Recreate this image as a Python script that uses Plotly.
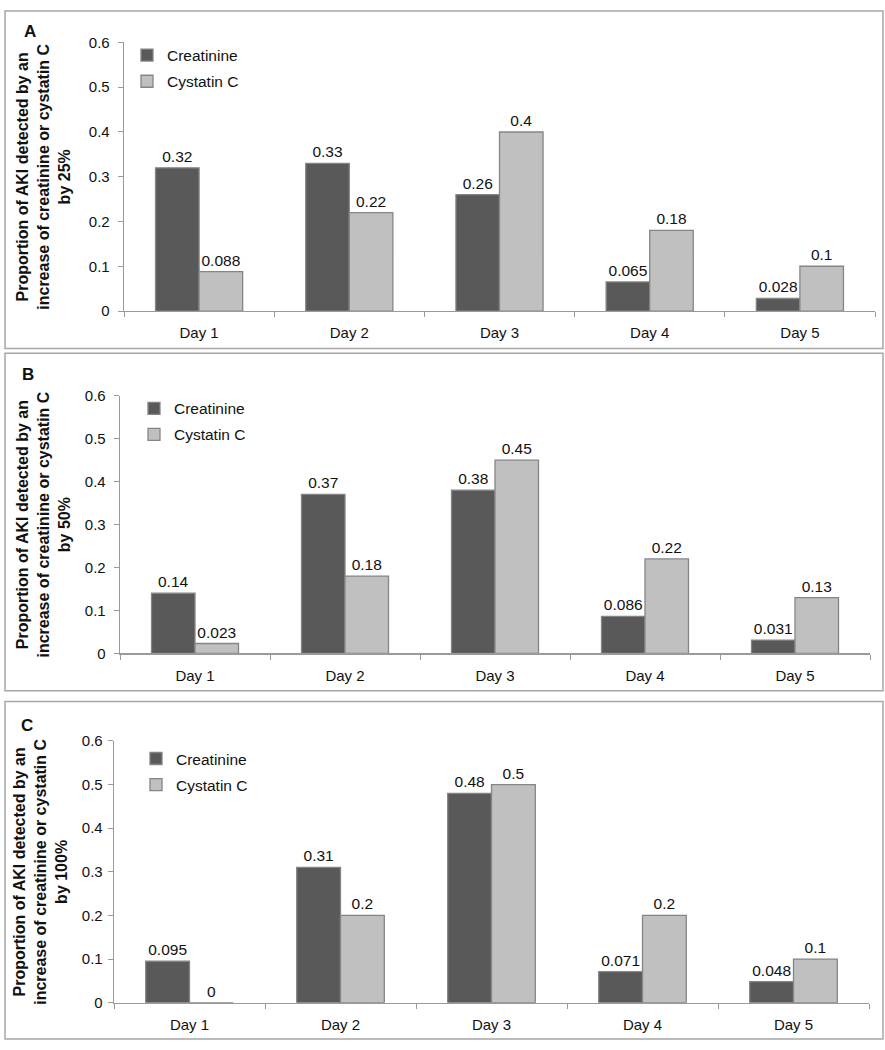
import plotly.graph_objects as go

W, H = 885, 1050

days = ["Day 1", "Day 2", "Day 3", "Day 4", "Day 5"]
series_names = ["Creatinine", "Cystatin C"]
panel_letters = ["A", "B", "C"]
thresholds = ["25%", "50%", "100%"]

creat_25 = [0.32, 0.33, 0.26, 0.065, 0.028]
cyst_25 = [0.088, 0.22, 0.4, 0.18, 0.1]
creat_50 = [0.14, 0.37, 0.38, 0.086, 0.031]
cyst_50 = [0.023, 0.18, 0.45, 0.22, 0.13]
creat_100 = [0.095, 0.31, 0.48, 0.071, 0.048]
cyst_100 = [0, 0.2, 0.5, 0.2, 0.1]

y_ticks = [0, 0.1, 0.2, 0.3, 0.4, 0.5, 0.6]

panels = [(creat_25, cyst_25), (creat_50, cyst_50), (creat_100, cyst_100)]

# layout in pixels
plot_px = [  # x0, x1, ytop, ybottom
    (124, 875, 34, 307),
    (120, 870, 393, 655),
    (114, 869, 744, 1010),
]
box_px = [(5, 883, 2, 345), (5, 883, 350, 693), (5, 883, 704, 1047)]
title_x_px = [44, 44, 41]
letter_px = [(30, 23), (28, 372), (27, 728)]
legend_px = [(127, 30), (134, 389), (136, 745)]
ytick_standoff = [5, 5, 2]

colors = ["#595959", "#c0c0c0"]
outline = "#858585"
font_family = "Liberation Sans, Arial, sans-serif"
txt = "#111111"

def px(x):
    return x / W

def py(y):
    return 1 - y / H

fig = go.Figure()
layout = dict(
    width=W, height=H, margin=dict(l=0, r=0, t=0, b=0),
    paper_bgcolor="white", plot_bgcolor="white",
    barmode="group", bargap=0.42, bargroupgap=0,
    font=dict(family=font_family, size=15, color=txt),
    shapes=[], annotations=[],
)

for i, (cr, cy) in enumerate(panels):
    ax = "" if i == 0 else str(i + 1)
    leg = "legend" if i == 0 else f"legend{i + 1}"
    for j, vals in enumerate([cr, cy]):
        fig.add_trace(go.Bar(
            x=days, y=vals, name=series_names[j],
            xaxis="x" + ax, yaxis="y" + ax, legend=leg,
            legendgroup=f"p{i}s{j}",
            marker=dict(color=colors[j], line=dict(color=outline, width=1.3)),
            text=[f"{v:g}" for v in vals], textposition="outside",
            textfont=dict(size=15.5, color=txt), constraintext="none",
            cliponaxis=False, showlegend=True,
        ))
    x0, x1, yt, yb = plot_px[i]
    layout["xaxis" + ax] = dict(
        domain=[px(x0), px(x1)], anchor="y" + ax,
        showline=True, linecolor="#9a9a9a", linewidth=1.3,
        ticks="outside", tickson="boundaries", ticklen=5, tickcolor="#9a9a9a",
        showgrid=False, tickfont=dict(size=15, color=txt), ticklabelstandoff=8,
        fixedrange=True,
    )
    layout["yaxis" + ax] = dict(
        domain=[py(yb), py(yt)], anchor="x" + ax, range=[0, 0.6],
        tickvals=y_ticks, ticktext=[f"{t:g}" for t in y_ticks],
        showline=True, linecolor="#9a9a9a", linewidth=1.3,
        ticks="outside", ticklen=5, tickcolor="#9a9a9a",
        showgrid=False, zeroline=False, tickfont=dict(size=15, color=txt),
        ticklabelstandoff=ytick_standoff[i], fixedrange=True,
    )
    lx, ly = legend_px[i]
    layout[leg] = dict(
        x=px(lx), y=py(ly), xanchor="left", yanchor="top",
        bgcolor="rgba(0,0,0,0)", font=dict(size=15.5, color=txt),
        traceorder="grouped", tracegroupgap=3,
        itemclick=False, itemdoubleclick=False,
    )
    bx0, bx1, by0, by1 = box_px[i]
    layout["shapes"].append(dict(
        type="rect", xref="paper", yref="paper",
        x0=px(bx0), x1=px(bx1), y0=py(by1), y1=py(by0),
        line=dict(color="#a6a6a6", width=1.5), fillcolor="rgba(0,0,0,0)",
    ))
    layout["annotations"].append(dict(
        xref="paper", yref="paper", x=px(title_x_px[i]), y=py((yt + yb) / 2),
        text=("<b>Proportion of AKI detected by an<br>increase of creatinine or cystatin C<br>by "
              + thresholds[i] + "</b>"),
        textangle=-90, showarrow=False, xanchor="center", yanchor="middle",
        font=dict(size=16, color=txt, family=font_family), align="center",
    ))
    lx2, ly2 = letter_px[i]
    layout["annotations"].append(dict(
        xref="paper", yref="paper", x=px(lx2), y=py(ly2),
        text="<b>" + panel_letters[i] + "</b>", showarrow=False,
        xanchor="center", yanchor="middle",
        font=dict(size=17, color=txt, family=font_family),
    ))

fig.update_layout(**layout)
fig.write_html(
    "out.html",
    config={"displayModeBar": False, "staticPlot": True},
    post_script=(
        "document.documentElement.style.margin='0';document.documentElement.style.padding='0';"
        "document.body.style.margin='0';document.body.style.padding='0';"
        "document.body.style.overflow='hidden';"
        "var d=document.getElementById('{plot_id}');"
        "d.style.position='fixed';d.style.top='0px';d.style.left='0px';"
    ),
)
